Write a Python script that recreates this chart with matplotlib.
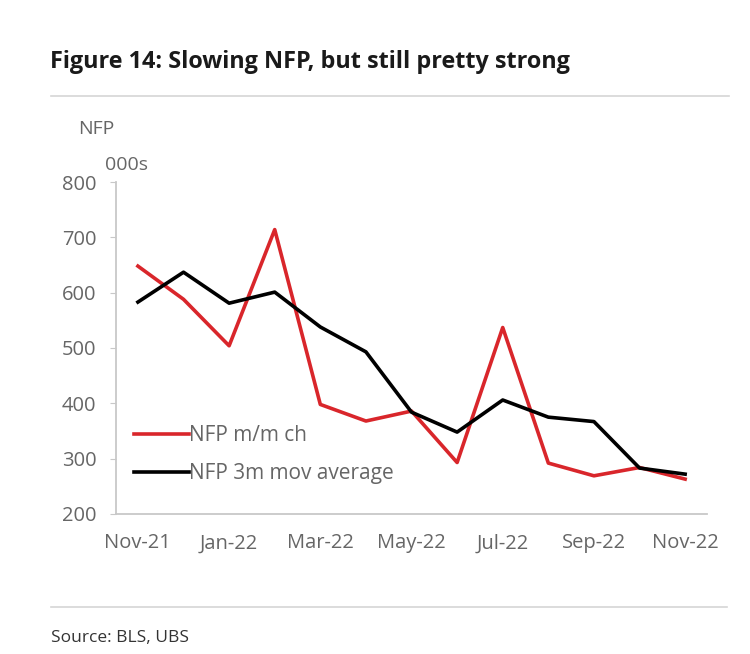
import matplotlib
matplotlib.use('Agg')
from matplotlib import pyplot as plt
from matplotlib.lines import Line2D

plt.rcParams['font.family'] = ['Open Sans', 'DejaVu Sans']

months = ['Nov-21', 'Dec-21', 'Jan-22', 'Feb-22', 'Mar-22', 'Apr-22', 'May-22',
          'Jun-22', 'Jul-22', 'Aug-22', 'Sep-22', 'Oct-22', 'Nov-22']
nfp_mm = [648, 588, 504, 714, 398, 368, 386, 293, 537, 292, 269, 284, 263]
nfp_3m = [583, 637, 581, 601, 538, 493, 384, 348, 406, 375, 367, 283, 272]
tick_labels = ['Nov-21', 'Jan-22', 'Mar-22', 'May-22', 'Jul-22', 'Sep-22', 'Nov-22']

red = '#d9262b'
grey_txt = '#666666'
grey_line = '#c8c8c8'

fig = plt.figure(figsize=(7.5, 6.54), dpi=100)
ax = fig.add_axes([0.1547, 0.2141, 0.788, 0.5076])

x = list(range(len(months)))
ax.plot(x, nfp_mm, color=red, lw=2.6, label='NFP m/m ch')
ax.plot(x, nfp_3m, color='black', lw=2.6, label='NFP 3m mov average')

ax.set_xlim(-0.48, 12.48)
ax.set_ylim(200, 800)
ax.set_yticks([200, 300, 400, 500, 600, 700, 800])
ax.set_xticks([months.index(m) for m in tick_labels])
ax.set_xticklabels(tick_labels)

for s in ['top', 'right']:
    ax.spines[s].set_visible(False)
for s in ['left', 'bottom']:
    ax.spines[s].set_color(grey_line)
    ax.spines[s].set_linewidth(1.3)
ax.tick_params(axis='y', length=4, color=grey_line, pad=10, labelsize=14.5, labelcolor=grey_txt)
ax.tick_params(axis='x', length=0, pad=14, labelsize=14.5, labelcolor=grey_txt)

leg = ax.legend(loc='lower left', bbox_to_anchor=(0.009, 0.053), frameon=False,
                fontsize=15, handlelength=2.65, handletextpad=0.0, labelspacing=0.8,
                borderaxespad=0.2)
for t in leg.get_texts():
    t.set_color(grey_txt)

fig.text(0.104, 0.803, 'NFP', fontsize=14, color=grey_txt, ha='left', va='center')
fig.text(0.14, 0.748, '000s', fontsize=14, color=grey_txt, ha='left', va='center')

fig.text(0.066, 0.905, 'Figure 14: Slowing NFP, but still pretty strong',
         fontsize=16.8, fontweight='bold', color='#1a1a1a', ha='left', va='center')
fig.add_artist(Line2D([0.068, 0.972], [0.853, 0.853], color='#d6d6d6', lw=1.2))
fig.add_artist(Line2D([0.068, 0.969], [0.072, 0.072], color='#d6d6d6', lw=1.2))
fig.text(0.068, 0.025, 'Source: BLS, UBS', fontsize=12.5, color='#333333', ha='left', va='center')

fig.savefig('out.png', dpi=100, facecolor='white')
